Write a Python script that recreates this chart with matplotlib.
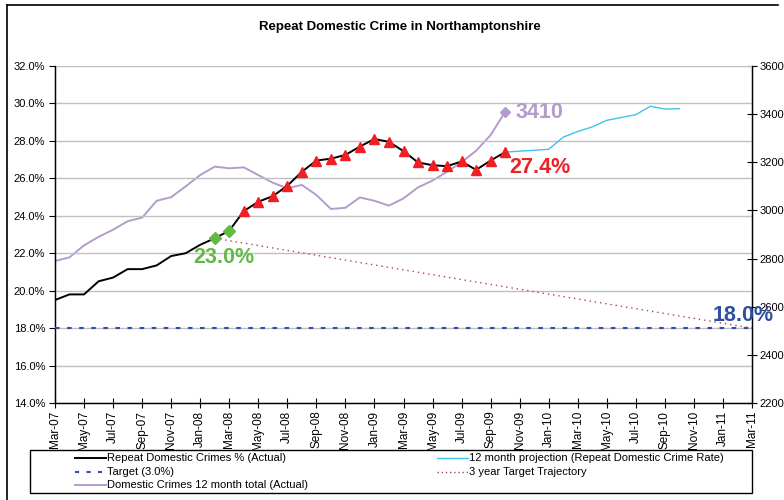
import matplotlib
matplotlib.use("Agg")
import matplotlib.pyplot as plt
from matplotlib.lines import Line2D
from matplotlib.patches import Rectangle
import numpy as np

plt.rcParams['font.family'] = ['Liberation Sans', 'DejaVu Sans']

# ---------------- data ----------------
months = ['Mar-07', 'Apr-07', 'May-07', 'Jun-07', 'Jul-07', 'Aug-07', 'Sep-07', 'Oct-07',
          'Nov-07', 'Dec-07', 'Jan-08', 'Feb-08', 'Mar-08', 'Apr-08', 'May-08', 'Jun-08',
          'Jul-08', 'Aug-08', 'Sep-08', 'Oct-08', 'Nov-08', 'Dec-08', 'Jan-09', 'Feb-09',
          'Mar-09', 'Apr-09', 'May-09', 'Jun-09', 'Jul-09', 'Aug-09', 'Sep-09', 'Oct-09',
          'Nov-09', 'Dec-09', 'Jan-10', 'Feb-10', 'Mar-10', 'Apr-10', 'May-10', 'Jun-10',
          'Jul-10', 'Aug-10', 'Sep-10', 'Oct-10', 'Nov-10', 'Dec-10', 'Jan-11', 'Feb-11',
          'Mar-11']

# Repeat Domestic Crimes % (Actual), Mar-07 .. Oct-09
repeat_pct = [19.5, 19.8, 19.8, 20.5, 20.7, 21.15, 21.15, 21.35, 21.85, 22.0, 22.45, 22.8,
              23.2, 24.25, 24.75, 25.05, 25.6, 26.35, 26.95, 27.05, 27.25, 27.7, 28.1, 27.95,
              27.45, 26.85, 26.7, 26.65, 26.9, 26.45, 26.95, 27.4]

# 12 month projection, Oct-09 .. Oct-10
proj_start = 'Oct-09'
projection = [27.4, 27.45, 27.5, 27.55, 28.2, 28.5, 28.75, 29.1, 29.25, 29.4, 29.85, 29.7, 29.72]

# Domestic Crimes 12 month total (Actual), Mar-07 .. Oct-09 (right axis)
dom_total = [2790, 2805, 2855, 2890, 2920, 2955, 2970, 3040, 3055, 3100, 3147, 3182,
             3175, 3179, 3147, 3115, 3092, 3106, 3064, 3006, 3011, 3054, 3040, 3020,
             3050, 3096, 3124, 3161, 3200, 3248, 3313, 3410]

target_value = 18.0
trajectory_months = ['Feb-08', 'Mar-11']
trajectory_values = [22.8, 18.0]

diamond_months = ['Feb-08', 'Mar-08']
triangle_from = 'Apr-08'

tick_labels = months[::2]

# ---------------- figure ----------------
W, H = 784, 500
fig = plt.figure(figsize=(W / 100, H / 100), dpi=100)
fig.patch.set_facecolor('white')

def fx(x):
    return x / W

def fy(y):
    return 1 - y / H

L, R, T, B = 55, 752, 66, 403
ax = fig.add_axes([fx(L), fy(B), fx(R) - fx(L), fy(T) - fy(B)])
ax2 = ax.twinx()

idx = {m: i for i, m in enumerate(months)}
x_all = np.arange(len(months))
x_rep = x_all[:len(repeat_pct)]

# gridlines
ax.set_ylim(14, 32)
ax.set_yticks(np.arange(14, 32.1, 2))
ax.yaxis.grid(True, color='#c0c0c0', linewidth=1.0)
ax.set_axisbelow(True)
ax.set_xlim(0, len(months) - 1)

# target
ax.plot(x_all, [target_value] * len(months), color='#2f4fb0', linewidth=1.5,
        linestyle=(0, (2.2, 3.6)), zorder=3)
# trajectory
ax.plot([idx[m] for m in trajectory_months], trajectory_values, color='#a84848',
        linewidth=1.0, linestyle=(0, (1, 2.8)), zorder=3)
# projection
xp = np.arange(idx[proj_start], idx[proj_start] + len(projection))
ax.plot(xp, projection, color='#3ec3ef', linewidth=1.0, zorder=4)
# actual
ax.plot(x_rep, repeat_pct, color='black', linewidth=1.4, zorder=5)
dm = [idx[m] for m in diamond_months]
ax.plot(dm, [repeat_pct[i] for i in dm], linestyle='none', marker='D', markersize=6,
        color='#62b946', zorder=6)
ti = np.arange(idx[triangle_from], len(repeat_pct))
ax.plot(ti, [repeat_pct[i] for i in ti], linestyle='none', marker='^', markersize=7.5,
        color='#ee2024', zorder=6)

# right axis: domestic crimes total
ax2.set_ylim(2200, 3600)
ax2.set_yticks(np.arange(2200, 3601, 200))
ax2.plot(x_rep, dom_total, color='#b39ccc', linewidth=1.4, zorder=2)
ax2.plot([x_rep[-1]], [dom_total[-1]], marker='D', markersize=5, color='#b39ccc',
         linestyle='none')
ax.set_zorder(ax2.get_zorder() + 1)
ax.patch.set_visible(False)

# ticks & spines
ax.set_xticks(x_all[::2])
ax.set_xticklabels(tick_labels, rotation=90, fontsize=8.5)
ax.set_yticklabels([f'{v:.1f}%' for v in np.arange(14, 32.1, 2)], fontsize=8)
ax.tick_params(axis='x', direction='inout', length=7, width=0.8, pad=2)
ax.tick_params(axis='y', direction='out', length=4, width=0.8, pad=3)
ax2.tick_params(axis='y', direction='inout', length=7, width=0.8, labelsize=8, pad=2)
for a in (ax, ax2):
    a.spines['top'].set_visible(False)
    for s in ('left', 'right', 'bottom'):
        a.spines[s].set_linewidth(0.9)
        a.spines[s].set_color('black')
ax.margins(x=0)

# annotations
lab_style = dict(fontsize=15.5, fontweight='bold', va='center', ha='left')
ax.text(9.5, 21.75, '23.0%', color='#62b946', **lab_style)
ax.text(31.25, 26.6, '27.4%', color='#ee2024', **lab_style)
ax.text(31.7, 29.5, str(dom_total[-1]), color='#b39ccc', **lab_style)
ax.text(45.3, 18.65, f'{target_value:.1f}%', color='#2f4fa0', **lab_style)

# title
fig.text(fx(400), fy(27), 'Repeat Domestic Crime in Northamptonshire', ha='center',
         va='center', fontsize=9.5, fontweight='bold')

# outer frame (partially visible)
fig.add_artist(Line2D([fx(7), fx(7)], [fy(5), fy(500)], color='black', linewidth=1.2))
fig.add_artist(Line2D([fx(7), fx(778)], [fy(5), fy(5)], color='black', linewidth=1.2))

# legend box (manual)
fig.add_artist(Rectangle((fx(30), fy(493)), fx(752) - fx(30), fy(450) - fy(493),
                         fill=False, edgecolor='black', linewidth=1.0,
                         transform=fig.transFigure))
legend_entries = [
    (75, 106, 458, dict(color='black', linewidth=1.4), 'Repeat Domestic Crimes % (Actual)'),
    (75, 106, 472, dict(color='#2f4fb0', linewidth=1.5, linestyle=(0, (2, 3.5))), 'Target (3.0%)'),
    (75, 106, 485, dict(color='#b39ccc', linewidth=1.4), 'Domestic Crimes 12 month total (Actual)'),
    (437, 468, 458, dict(color='#3ec3ef', linewidth=1.0), '12 month projection (Repeat Domestic Crime Rate)'),
    (437, 468, 472, dict(color='#a84848', linewidth=1.0, linestyle=(0, (1, 2))), '3 year Target Trajectory'),
]
for x0, x1, y, st, lab in legend_entries:
    fig.add_artist(Line2D([fx(x0), fx(x1)], [fy(y), fy(y)], **st))
    fig.text(fx(x1 + 1), fy(y), lab, ha='left', va='center', fontsize=8)

fig.savefig('out.png', dpi=100)
